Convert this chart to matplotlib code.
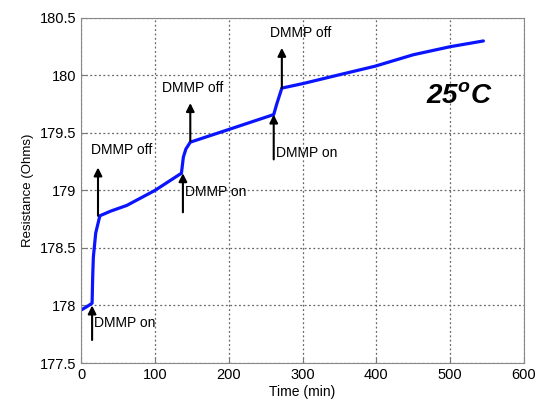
import matplotlib.pyplot as plt

plt.rcParams['font.family'] = ['Liberation Sans', 'DejaVu Sans']

# resistance trace
t = [0, 8, 15, 15.8, 16.7, 19.9, 25.5, 40, 62, 100, 136, 138.6, 142, 148, 200, 261, 265, 272, 301, 346, 398, 450, 500, 545]
r = [177.96, 177.99, 178.02, 178.25, 178.42, 178.63, 178.78, 178.82, 178.87, 179.00, 179.15, 179.29, 179.36, 179.42, 179.53, 179.66, 179.75, 179.89, 179.93, 180.00, 180.08, 180.18, 180.25, 180.30]

# "DMMP on" arrows: x, tail y, head y, text y
on_t = [15, 138, 261]
on_tail = [177.70, 178.81, 179.27]
on_head = [178.00, 179.15, 179.66]
on_text_y = [177.85, 178.99, 179.33]

# "DMMP off" arrows: x, tail y, head y, text x, text y
off_t = [23, 148, 272]
off_tail = [178.78, 179.43, 179.89]
off_head = [179.20, 179.76, 180.24]
off_text_x = [55, 151, 297]
off_text_y = [179.29, 179.83, 180.31]

fig = plt.figure(figsize=(5.38, 4.05), dpi=100)
ax = fig.add_axes([0.1506, 0.1037, 0.8234, 0.852])

ax.plot(t, r, color='#0a14ff', lw=2.3, solid_capstyle='round')

for x, y0, y1, ty in zip(on_t, on_tail, on_head, on_text_y):
    ax.annotate('', xy=(x, y1), xytext=(x, y0),
                arrowprops=dict(arrowstyle='-|>', color='black', lw=1.5, mutation_scale=12, shrinkA=0, shrinkB=0))
    ax.text(x + 3, ty, 'DMMP on', fontsize=10, va='center', ha='left')

for x, y0, y1, tx, ty in zip(off_t, off_tail, off_head, off_text_x, off_text_y):
    ax.annotate('', xy=(x, y1), xytext=(x, y0),
                arrowprops=dict(arrowstyle='-|>', color='black', lw=1.5, mutation_scale=12, shrinkA=0, shrinkB=0))
    ax.text(tx, ty, 'DMMP off', fontsize=10, va='bottom', ha='center')

ax.text(512, 179.81, '25$^{\\mathregular{o}}$C', fontsize=20, fontweight='bold', fontstyle='italic',
        ha='center', va='center')

ax.set_xlim(0, 600)
ax.set_ylim(177.5, 180.5)
ax.set_xticks(range(0, 601, 100))
ax.set_yticks([177.5, 178, 178.5, 179, 179.5, 180, 180.5])
ax.set_yticklabels(['177.5', '178', '178.5', '179', '179.5', '180', '180.5'])
ax.grid(True, color='#666666', linestyle=(0, (1.5, 2)), lw=0.9)
ax.tick_params(direction='in', labelsize=10.5, length=4, color='#777777')
for s in ax.spines.values():
    s.set_color('#888888')
ax.set_xlabel('Time (min)', fontsize=10, labelpad=2)
ax.set_ylabel('Resistance (Ohms)', fontsize=9.5, labelpad=4)

fig.savefig('out.png', dpi=100)
